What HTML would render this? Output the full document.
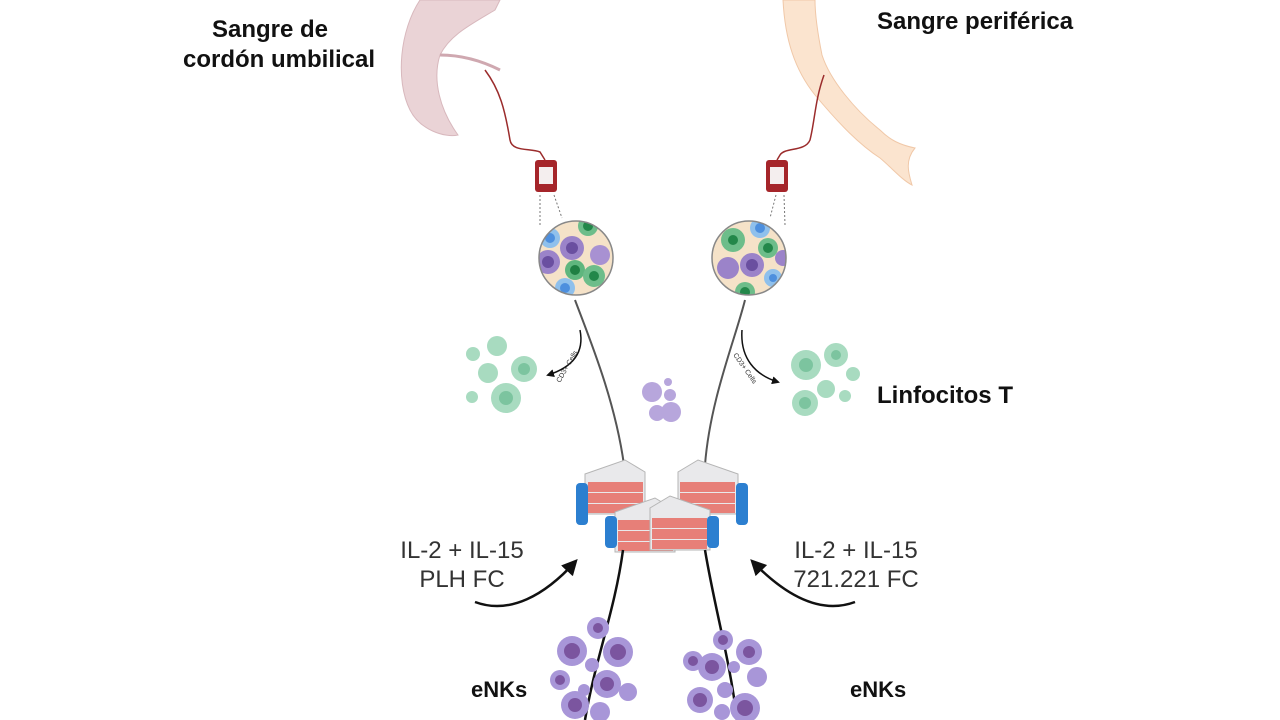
<!DOCTYPE html>
<html><head><meta charset="utf-8"><style>
html,body{margin:0;padding:0;background:#fff;width:1280px;height:720px;overflow:hidden}
svg{display:block}
.b{font-family:"Liberation Sans",sans-serif;font-weight:bold;font-size:24px;fill:#111}
.n{font-family:"Liberation Sans",sans-serif;font-size:24px;fill:#333}
</style></head><body>
<svg width="1280" height="720" viewBox="0 0 1280 720">
<defs>
<marker id="ah" markerWidth="8" markerHeight="8" refX="6" refY="4" orient="auto" markerUnits="userSpaceOnUse"><path d="M0,0 L8,4 L0,8z" fill="#111"/></marker>
<marker id="ah2" markerWidth="16" markerHeight="16" refX="12" refY="8" orient="auto" markerUnits="userSpaceOnUse"><path d="M0,0 L16,8 L0,16z" fill="#111"/></marker>
<clipPath id="c1"><circle cx="576" cy="258" r="37"/></clipPath>
<clipPath id="c2"><circle cx="749" cy="258" r="37"/></clipPath>
<g id="fl">
<path d="M0,2 L40,-12 L60,0 L60,42 L0,42z" fill="#e9e9eb" stroke="#b5b5b5"/>
<rect x="3" y="10" width="55" height="10" fill="#e77f78"/><rect x="3" y="21" width="55" height="10" fill="#e77f78"/><rect x="3" y="32" width="55" height="9" fill="#e77f78"/>
</g>
</defs>
<text class="b" x="270" y="37" text-anchor="middle">Sangre de</text>
<text class="b" x="183" y="67">cordón umbilical</text>
<text class="b" x="877" y="29">Sangre periférica</text>
<text class="b" x="877" y="403">Linfocitos T</text>
<text class="b" x="471" y="697" style="font-size:22px">eNKs</text>
<text class="b" x="850" y="697" style="font-size:22px">eNKs</text>
<text class="n" x="462" y="558" text-anchor="middle">IL-2 + IL-15</text>
<text class="n" x="462" y="587" text-anchor="middle">PLH FC</text>
<text class="n" x="856" y="558" text-anchor="middle">IL-2 + IL-15</text>
<text class="n" x="856" y="587" text-anchor="middle">721.221 FC</text>
<!-- placenta -->
<path d="M420,0 C400,30 395,80 410,110 C420,130 445,138 458,135 C440,110 432,80 440,55 C450,35 470,25 495,10 L500,0z" fill="#ead3d6" stroke="#d8b8bd"/>
<path d="M440,55 C460,55 480,60 500,70" stroke="#cfa8b0" stroke-width="3" fill="none"/>
<!-- arm -->
<path d="M783,0 C785,40 795,70 815,95 C840,125 860,145 880,158 C892,168 902,180 912,185 C908,172 905,160 915,148 C900,145 890,140 880,130 C855,110 830,80 822,55 C818,35 815,15 815,0 Z" fill="#fbe4cf" stroke="#f0c8a8"/>
<!-- tubes -->
<path d="M485,70 C500,90 505,110 510,140 C512,152 530,148 540,152 L545,160" stroke="#9b2c2c" stroke-width="1.5" fill="none"/>
<path d="M824,75 C815,100 815,120 810,140 C805,152 785,147 780,155 L777,160" stroke="#9b2c2c" stroke-width="1.5" fill="none"/>
<!-- bags -->
<rect x="535" y="160" width="22" height="32" rx="3" fill="#a5252a"/><rect x="539" y="167" width="14" height="17" fill="#f4eeee"/>
<rect x="766" y="160" width="22" height="32" rx="3" fill="#a5252a"/><rect x="770" y="167" width="14" height="17" fill="#f4eeee"/>
<path d="M540,195 L540,225 M554,195 L562,218" stroke="#777" stroke-dasharray="2,2"/>
<path d="M776,195 L770,218 M784,195 L785,225" stroke="#777" stroke-dasharray="2,2"/>
<!-- circles -->
<g clip-path="url(#c1)"><rect x="535" y="218" width="85" height="80" fill="#f5e2c8"/>
<circle cx="550" cy="238" r="10" fill="#8fc0ec"/><circle cx="550" cy="238" r="5" fill="#4d8fde"/>
<circle cx="588" cy="226" r="10" fill="#6dbd8a"/><circle cx="588" cy="226" r="5" fill="#23874a"/>
<circle cx="572" cy="248" r="12" fill="#9b83c9"/><circle cx="572" cy="248" r="6" fill="#6a4fa0"/>
<circle cx="600" cy="255" r="10" fill="#a891d2"/>
<circle cx="548" cy="262" r="12" fill="#9b83c9"/><circle cx="548" cy="262" r="6" fill="#6a4fa0"/>
<circle cx="575" cy="270" r="10" fill="#5fb67e"/><circle cx="575" cy="270" r="5" fill="#1f7f43"/>
<circle cx="594" cy="276" r="11" fill="#6dbd8a"/><circle cx="594" cy="276" r="5" fill="#23874a"/>
<circle cx="565" cy="288" r="10" fill="#8fc0ec"/><circle cx="565" cy="288" r="5" fill="#4d8fde"/></g>
<circle cx="576" cy="258" r="37" fill="none" stroke="#888" stroke-width="1.5"/>
<g clip-path="url(#c2)"><rect x="708" y="218" width="85" height="80" fill="#f5e2c8"/>
<circle cx="733" cy="240" r="12" fill="#6dbd8a"/><circle cx="733" cy="240" r="5" fill="#23874a"/>
<circle cx="760" cy="228" r="10" fill="#8fc0ec"/><circle cx="760" cy="228" r="5" fill="#4d8fde"/>
<circle cx="768" cy="248" r="10" fill="#6dbd8a"/><circle cx="768" cy="248" r="5" fill="#23874a"/>
<circle cx="728" cy="268" r="11" fill="#9b83c9"/>
<circle cx="752" cy="265" r="12" fill="#9b83c9"/><circle cx="752" cy="265" r="6" fill="#6a4fa0"/>
<circle cx="783" cy="258" r="8" fill="#9b83c9"/>
<circle cx="773" cy="278" r="9" fill="#8fc0ec"/><circle cx="773" cy="278" r="4" fill="#4d8fde"/>
<circle cx="745" cy="292" r="10" fill="#6dbd8a"/><circle cx="745" cy="292" r="5" fill="#23874a"/></g>
<circle cx="749" cy="258" r="37" fill="none" stroke="#888" stroke-width="1.5"/>
<!-- lines -->
<path d="M575,300 C590,340 615,400 624,465" stroke="#555" stroke-width="2" fill="none"/>
<path d="M745,300 C735,340 710,400 705,465" stroke="#555" stroke-width="2" fill="none"/>
<path d="M580,330 C585,355 570,368 548,375" stroke="#111" stroke-width="1.5" fill="none" marker-end="url(#ah)"/>
<path d="M742,330 C740,358 755,375 778,382" stroke="#111" stroke-width="1.5" fill="none" marker-end="url(#ah)"/>
<text x="560" y="383" font-family="Liberation Sans" font-size="7" fill="#333" transform="rotate(-60 560 383)">CD3+ Cells</text>
<text x="733" y="355" font-family="Liberation Sans" font-size="7" fill="#333" transform="rotate(55 733 355)">CD3+ Cells</text>
<!-- green cells -->
<g fill="#a8dbc0"><circle cx="497" cy="346" r="10"/><circle cx="473" cy="354" r="7"/><circle cx="488" cy="373" r="10"/><circle cx="524" cy="369" r="13"/><circle cx="506" cy="398" r="15"/><circle cx="472" cy="397" r="6"/>
<circle cx="806" cy="365" r="15"/><circle cx="836" cy="355" r="12"/><circle cx="853" cy="374" r="7"/><circle cx="826" cy="389" r="9"/><circle cx="845" cy="396" r="6"/><circle cx="805" cy="403" r="13"/></g>
<g fill="#7cc49f"><circle cx="506" cy="398" r="7"/><circle cx="524" cy="369" r="6"/><circle cx="806" cy="365" r="7"/><circle cx="805" cy="403" r="6"/><circle cx="836" cy="355" r="5"/></g>
<!-- purple small -->
<g fill="#b7a6dc"><circle cx="668" cy="382" r="4"/><circle cx="652" cy="392" r="10"/><circle cx="670" cy="395" r="6"/><circle cx="657" cy="413" r="8"/><circle cx="671" cy="412" r="10"/></g>
<!-- flasks -->
<use href="#fl" transform="translate(585,472)"/>
<rect x="576" y="483" width="12" height="42" rx="4" fill="#2c7fd0"/>
<use href="#fl" transform="translate(738,472) scale(-1,1)"/>
<rect x="736" y="483" width="12" height="42" rx="4" fill="#2c7fd0"/>
<use href="#fl" transform="translate(615,510)"/>
<rect x="605" y="516" width="12" height="32" rx="4" fill="#2c7fd0"/>
<use href="#fl" transform="translate(710,508) scale(-1,1)"/>
<rect x="707" y="516" width="12" height="32" rx="4" fill="#2c7fd0"/>
<!-- lower lines -->
<path d="M623,550 C615,610 595,660 585,720" stroke="#111" stroke-width="2.5" fill="none"/>
<path d="M705,550 C715,610 730,660 737,720" stroke="#111" stroke-width="2.5" fill="none"/>
<!-- arrows -->
<path d="M475,602 C510,615 545,595 575,562" stroke="#111" stroke-width="2.5" fill="none" marker-end="url(#ah2)"/>
<path d="M855,602 C820,615 785,595 753,562" stroke="#111" stroke-width="2.5" fill="none" marker-end="url(#ah2)"/>
<!-- purple cells -->
<g fill="#a896d8"><circle cx="598" cy="628" r="11"/><circle cx="572" cy="651" r="15"/><circle cx="618" cy="652" r="15"/><circle cx="592" cy="665" r="7"/><circle cx="560" cy="680" r="10"/><circle cx="607" cy="684" r="14"/><circle cx="628" cy="692" r="9"/><circle cx="575" cy="705" r="14"/><circle cx="600" cy="712" r="10"/><circle cx="584" cy="690" r="6"/>
<circle cx="723" cy="640" r="10"/><circle cx="693" cy="661" r="10"/><circle cx="712" cy="667" r="14"/><circle cx="749" cy="652" r="13"/><circle cx="734" cy="667" r="6"/><circle cx="757" cy="677" r="10"/><circle cx="700" cy="700" r="13"/><circle cx="725" cy="690" r="8"/><circle cx="745" cy="708" r="15"/><circle cx="722" cy="712" r="8"/></g>
<g fill="#7b559f"><circle cx="598" cy="628" r="5"/><circle cx="572" cy="651" r="8"/><circle cx="618" cy="652" r="8"/><circle cx="560" cy="680" r="5"/><circle cx="607" cy="684" r="7"/><circle cx="575" cy="705" r="7"/><circle cx="723" cy="640" r="5"/><circle cx="712" cy="667" r="7"/><circle cx="749" cy="652" r="6"/><circle cx="700" cy="700" r="7"/><circle cx="745" cy="708" r="8"/><circle cx="693" cy="661" r="5"/></g>
</svg>
</body></html>
